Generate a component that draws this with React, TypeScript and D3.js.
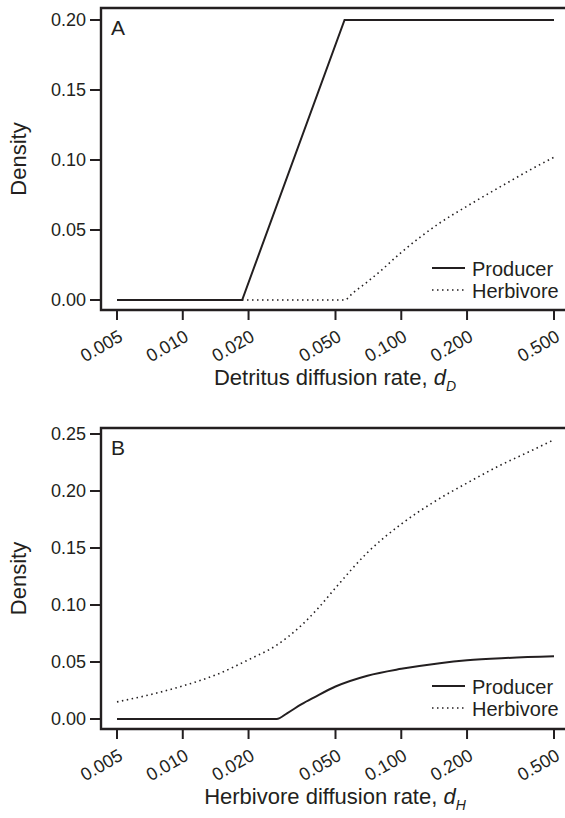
import React from "react";
import * as d3 from "d3";

// ---- Data ----
const xTicks = [0.005, 0.01, 0.02, 0.05, 0.1, 0.2, 0.5];
const xTickLabels = ["0.005", "0.010", "0.020", "0.050", "0.100", "0.200", "0.500"];
const yTicksA = [0, 0.05, 0.1, 0.15, 0.2];
const yTicksB = [0, 0.05, 0.1, 0.15, 0.2, 0.25];

// Panel A: detritus diffusion rate
const producerA_d = [0.005, 0.0187, 0.055, 0.5];
const producerA_v = [0, 0, 0.2, 0.2];
const herbivoreA_d = [0.005, 0.055, 0.06, 0.07, 0.08, 0.1, 0.15, 0.2, 0.3, 0.4, 0.5];
const herbivoreA_v = [0, 0, 0.005, 0.013, 0.0205, 0.034, 0.055, 0.067, 0.083, 0.094, 0.102];

// Panel B: herbivore diffusion rate
const producerB_d = [0.005, 0.0269, 0.03, 0.035, 0.04, 0.05, 0.07, 0.1, 0.15, 0.2, 0.3, 0.5];
const producerB_v = [0, 0, 0.005, 0.013, 0.019, 0.0285, 0.038, 0.044, 0.049, 0.0515, 0.0535, 0.055];
const herbivoreB_d = [0.005, 0.0075, 0.01, 0.0143, 0.02, 0.027, 0.0344, 0.042, 0.05, 0.07, 0.1, 0.14, 0.2, 0.28, 0.4, 0.5];
const herbivoreB_v = [0.015, 0.0225, 0.029, 0.039, 0.052, 0.065, 0.081, 0.098, 0.115, 0.146, 0.171, 0.19, 0.207, 0.222, 0.236, 0.245];

const seriesNames = ["Producer", "Herbivore"];

const FONT = "'Liberation Sans', Arial, Helvetica, sans-serif";
const INK = "#231f20";

type PanelProps = {
  letter: string;
  top: number;
  axisY: number;
  yDomainMax: number;
  yRange: [number, number];
  yTicks: number[];
  prodD: number[];
  prodV: number[];
  prodCurve: any;
  herbD: number[];
  herbV: number[];
  titleMain: string;
  titleSub: string;
  titleY: number;
  legendY: number;
};

const x = d3.scaleLog().domain([0.005, 0.5]).range([117, 554]);
const LEFT = 101;
const RIGHT = 566;

function Panel(p: PanelProps) {
  const y = d3.scaleLinear().domain([0, p.yDomainMax]).range(p.yRange);
  const prodLine = d3
    .line<number>()
    .x((_, i) => x(p.prodD[i]))
    .y((v) => y(v))
    .curve(p.prodCurve);
  const herbLine = d3
    .line<number>()
    .x((_, i) => x(p.herbD[i]))
    .y((v) => y(v))
    .curve(d3.curveMonotoneX);
  const midY = (p.top + p.axisY) / 2;
  return (
    <g>
      <path
        d={`M${RIGHT},${p.top}H${LEFT}V${p.axisY}H${RIGHT}`}
        fill="none"
        stroke={INK}
        strokeWidth={2.4}
      />
      {p.yTicks.map((t) => (
        <g key={t}>
          <line x1={LEFT - 11} x2={LEFT} y1={y(t)} y2={y(t)} stroke={INK} strokeWidth={2} />
          <text
            x={86}
            y={y(t)}
            textAnchor="end"
            dominantBaseline="central"
            fontSize={18}
            fontFamily={FONT}
            fill={INK}
          >
            {t.toFixed(2)}
          </text>
        </g>
      ))}
      {xTicks.map((t, i) => (
        <g key={t}>
          <line x1={x(t)} x2={x(t)} y1={p.axisY} y2={p.axisY + 10} stroke={INK} strokeWidth={2} />
          <text
            transform={`translate(${x(t) + 7},${p.axisY + 30}) rotate(-30)`}
            textAnchor="end"
            fontSize={18}
            fontFamily={FONT}
            fill={INK}
          >
            {xTickLabels[i]}
          </text>
        </g>
      ))}
      <text
        transform={`translate(26,${midY}) rotate(-90)`}
        textAnchor="middle"
        fontSize={22}
        fontFamily={FONT}
        fill={INK}
      >
        Density
      </text>
      <text x={335} y={p.titleY} textAnchor="middle" fontSize={22} fontFamily={FONT} fill={INK}>
        {p.titleMain}
        <tspan fontStyle="italic">d</tspan>
        <tspan fontStyle="italic" fontSize={14} dy={6}>
          {p.titleSub}
        </tspan>
      </text>
      <text x={111} y={p.top + 27} fontSize={21} fontFamily={FONT} fill={INK}>
        {p.letter}
      </text>
      <path d={herbLine(p.herbV) || ""} fill="none" stroke={INK} strokeWidth={1.6} strokeDasharray="1.5,3.5" />
      <path d={prodLine(p.prodV) || ""} fill="none" stroke={INK} strokeWidth={2} />
      <line x1={432} x2={465} y1={p.legendY} y2={p.legendY} stroke={INK} strokeWidth={2} />
      <text x={472} y={p.legendY + 8} fontSize={20} fontFamily={FONT} fill={INK}>
        {seriesNames[0]}
      </text>
      <line
        x1={432}
        x2={465}
        y1={p.legendY + 22}
        y2={p.legendY + 22}
        stroke={INK}
        strokeWidth={1.4}
        strokeDasharray="1.5,3.5"
      />
      <text x={472} y={p.legendY + 30} fontSize={20} fontFamily={FONT} fill={INK}>
        {seriesNames[1]}
      </text>
    </g>
  );
}

export default function App() {
  return (
    <svg
      width={565}
      height={818}
      viewBox="0 0 565 818"
      style={{ position: "absolute", left: 0, top: 0, background: "#fff" }}
    >
      <rect width={565} height={818} fill="#fff" />
      <Panel
        letter="A"
        top={8}
        axisY={310}
        yDomainMax={0.2}
        yRange={[300, 20]}
        yTicks={yTicksA}
        prodD={producerA_d}
        prodV={producerA_v}
        prodCurve={d3.curveLinear}
        herbD={herbivoreA_d}
        herbV={herbivoreA_v}
        titleMain="Detritus diffusion rate, "
        titleSub="D"
        titleY={385}
        legendY={268}
      />
      <Panel
        letter="B"
        top={428}
        axisY={729}
        yDomainMax={0.25}
        yRange={[719, 434]}
        yTicks={yTicksB}
        prodD={producerB_d}
        prodV={producerB_v}
        prodCurve={d3.curveMonotoneX}
        herbD={herbivoreB_d}
        herbV={herbivoreB_v}
        titleMain="Herbivore diffusion rate, "
        titleSub="H"
        titleY={804}
        legendY={686}
      />
    </svg>
  );
}
